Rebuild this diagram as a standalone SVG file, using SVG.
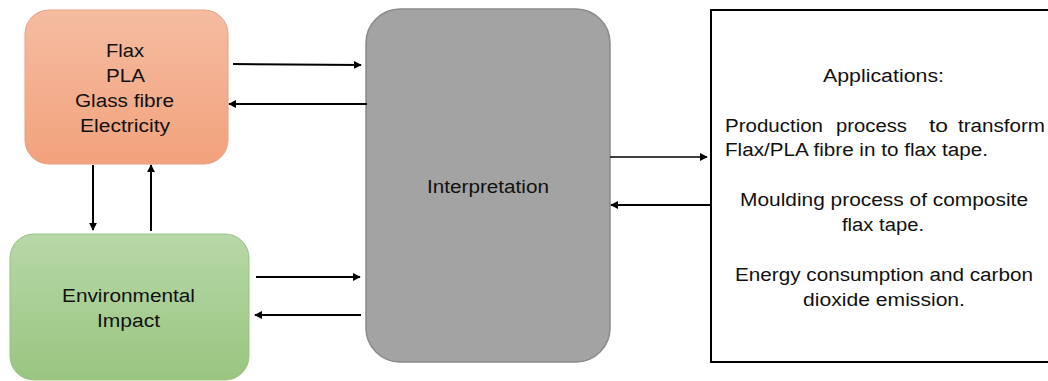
<svg xmlns="http://www.w3.org/2000/svg" width="1048" height="381" viewBox="0 0 1048 381">
<style>
text{font-family:"Liberation Sans",Arial,sans-serif;font-size:18px;fill:#111;}
.c{text-anchor:middle;}
.ln{stroke:#000;stroke-width:2;fill:none;}
.thin{stroke:#000;stroke-width:1.3;fill:none;}
</style>
<defs>
<linearGradient id="gO" x1="0" y1="0" x2="0" y2="1"><stop offset="0" stop-color="#F5BCA1"/><stop offset="1" stop-color="#F2A27C"/></linearGradient>
<linearGradient id="gG" x1="0" y1="0" x2="0" y2="1"><stop offset="0" stop-color="#B7D8A8"/><stop offset="1" stop-color="#9AC580"/></linearGradient>
<marker id="ah" viewBox="0 0 10 10" refX="9" refY="5" markerWidth="4" markerHeight="4" orient="auto" markerUnits="strokeWidth"><path d="M0,0 L10,5 L0,10 z" fill="#000"/></marker>
<marker id="ah2" viewBox="0 0 10 10" refX="9" refY="5" markerWidth="6" markerHeight="6" orient="auto" markerUnits="strokeWidth"><path d="M0,0 L10,5 L0,10 z" fill="#000"/></marker>
</defs>
<rect width="1048" height="381" fill="#fff"/>
<g id="inputs">
<rect x="25" y="10" width="203" height="154" rx="24" fill="url(#gO)" stroke="#E8A080" stroke-width="1"/>
<text class="c" x="125" y="57" textLength="38" lengthAdjust="spacingAndGlyphs">Flax</text>
<text class="c" x="125.5" y="82" textLength="39" lengthAdjust="spacingAndGlyphs">PLA</text>
<text class="c" x="124.5" y="107" textLength="99" lengthAdjust="spacingAndGlyphs">Glass fibre</text>
<text class="c" x="125" y="132" textLength="90" lengthAdjust="spacingAndGlyphs">Electricity</text>
</g>
<g id="impact">
<rect x="10" y="234" width="239" height="146" rx="24" fill="url(#gG)" stroke="#98C280" stroke-width="1"/>
<text class="c" x="128.5" y="302" textLength="133" lengthAdjust="spacingAndGlyphs">Environmental</text>
<text class="c" x="128.5" y="327" textLength="63" lengthAdjust="spacingAndGlyphs">Impact</text>
</g>
<g id="interpretation">
<rect x="366" y="9" width="244" height="353" rx="34" fill="#A3A3A3" stroke="#8A8A8A" stroke-width="1.5"/>
<text class="c" x="488" y="193" textLength="122" lengthAdjust="spacingAndGlyphs">Interpretation</text>
</g>
<g id="applications">
<rect x="711" y="10" width="345" height="352" fill="#fff" stroke="#000" stroke-width="2"/>
<text class="c" x="883.5" y="82" textLength="121" lengthAdjust="spacingAndGlyphs">Applications:</text>
<text x="725" y="132" textLength="98" lengthAdjust="spacingAndGlyphs">Production</text>
<text x="836" y="132" textLength="71" lengthAdjust="spacingAndGlyphs">process</text>
<text x="929" y="132" textLength="19" lengthAdjust="spacingAndGlyphs">to</text>
<text x="958" y="132" textLength="87" lengthAdjust="spacingAndGlyphs">transform</text>
<text x="725" y="156" textLength="263" lengthAdjust="spacingAndGlyphs">Flax/PLA fibre in to flax tape.</text>
<text class="c" x="884" y="206" textLength="288" lengthAdjust="spacingAndGlyphs">Moulding process of composite</text>
<text class="c" x="883" y="231" textLength="82" lengthAdjust="spacingAndGlyphs">flax tape.</text>
<text class="c" x="884" y="281" textLength="298" lengthAdjust="spacingAndGlyphs">Energy consumption and carbon</text>
<text class="c" x="884" y="306" textLength="162" lengthAdjust="spacingAndGlyphs">dioxide emission.</text>
</g>
<g id="connectors">
<line class="ln" x1="233" y1="64" x2="361" y2="65" marker-end="url(#ah)"/>
<line class="ln" x1="367" y1="104" x2="229" y2="104" marker-end="url(#ah)"/>
<line class="ln" x1="93" y1="165" x2="93" y2="230" marker-end="url(#ah)"/>
<line class="ln" x1="151" y1="231" x2="151" y2="165" marker-end="url(#ah)"/>
<line class="ln" x1="256" y1="277" x2="360" y2="277" marker-end="url(#ah)"/>
<line class="ln" x1="361" y1="315" x2="255" y2="315" marker-end="url(#ah)"/>
<line class="thin" x1="610" y1="157" x2="707" y2="157" marker-end="url(#ah2)"/>
<line class="ln" x1="711" y1="205" x2="611" y2="205" marker-end="url(#ah)"/>
</g>
</svg>
